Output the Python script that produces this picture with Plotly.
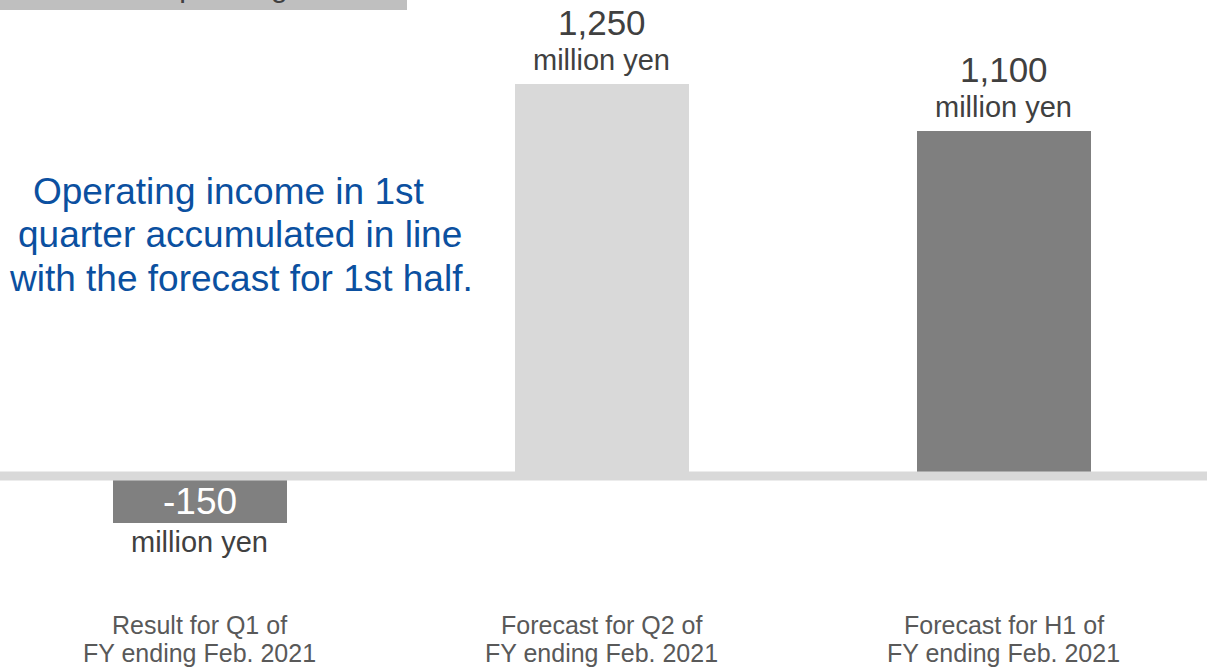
import plotly.graph_objects as go

categories = ["Result for Q1 of<br>FY ending Feb. 2021",
              "Forecast for Q2 of<br>FY ending Feb. 2021",
              "Forecast for H1 of<br>FY ending Feb. 2021"]
values = [-150, 1250, 1100]
value_labels = ["-150", "1,250", "1,100"]
unit_label = "million yen"
bar_colors = ["#808080", "#D9D9D9", "#7F7F7F"]
message_lines = ["Operating income in 1st",
                 "quarter accumulated in line",
                 "with the forecast for 1st half."]
header_text = "Operating income"

W, H = 1207, 669
FONT = "Liberation Sans, Arial, sans-serif"
xs = list(range(len(categories)))

fig = go.Figure()
fig.add_trace(go.Bar(x=xs, y=values, width=0.435,
                     marker=dict(color=bar_colors, line=dict(width=0)),
                     hoverinfo="skip"))

ann = []
for i, (v, lab) in enumerate(zip(values, value_labels)):
    if v >= 0:
        ann.append(dict(x=i, y=v, xref="x", yref="y", text=lab, showarrow=False,
                        yanchor="middle", yshift=62,
                        font=dict(family=FONT, size=35, color="#404040")))
        ann.append(dict(x=i, y=v, xref="x", yref="y", text=unit_label, showarrow=False,
                        yanchor="middle", yshift=24,
                        font=dict(family=FONT, size=29, color="#404040")))
    else:
        ann.append(dict(x=i, y=v, xref="x", yref="y", text=lab, showarrow=False,
                        yanchor="middle", yshift=22,
                        font=dict(family=FONT, size=37, color="#FFFFFF")))
        ann.append(dict(x=i, y=v, xref="x", yref="y", text=unit_label, showarrow=False,
                        yanchor="middle", yshift=-19,
                        font=dict(family=FONT, size=29, color="#404040")))
    for k, part in enumerate(categories[i].split("<br>")):
        ann.append(dict(x=i, y=1 - (625 + 28 * k) / H, xref="x", yref="paper", text=part,
                        showarrow=False, yanchor="middle",
                        font=dict(family=FONT, size=25, color="#595959")))

line_centers = [228, 240, 241]
for k, line in enumerate(message_lines):
    ann.append(dict(x=line_centers[k] / W, y=1 - (192 + 43 * k) / H, xref="paper", yref="paper",
                    text=line, showarrow=False, xanchor="center", yanchor="middle",
                    font=dict(family=FONT, size=37, color="#0B50A0")))

ann.append(dict(x=154 / W, y=1 + 14 / H, xref="paper", yref="paper", text=header_text,
                showarrow=False, xanchor="left", yanchor="middle",
                font=dict(family=FONT, size=30, color="#404040")))

shapes = [
    dict(type="rect", xref="paper", yref="paper", x0=0, x1=407 / W, y0=1 - 10 / H, y1=1,
         fillcolor="#BFBFBF", line=dict(width=0), layer="above"),
    dict(type="line", xref="paper", yref="y", x0=0, x1=1, y0=0, y1=0,
         line=dict(color="#D9D9D9", width=9), layer="above"),
]

fig.update_layout(
    width=W, height=H, margin=dict(l=0, r=0, t=0, b=0),
    paper_bgcolor="white", plot_bgcolor="white", showlegend=False,
    xaxis=dict(range=[-0.4975, 2.505], visible=False, fixedrange=True),
    yaxis=dict(range=[-615.4, 1517.9], visible=False, fixedrange=True),
    annotations=ann, shapes=shapes, bargap=0,
)

fig.write_html("out.html", post_script="document.body.style.margin='0';",
               config={"displayModeBar": False})
